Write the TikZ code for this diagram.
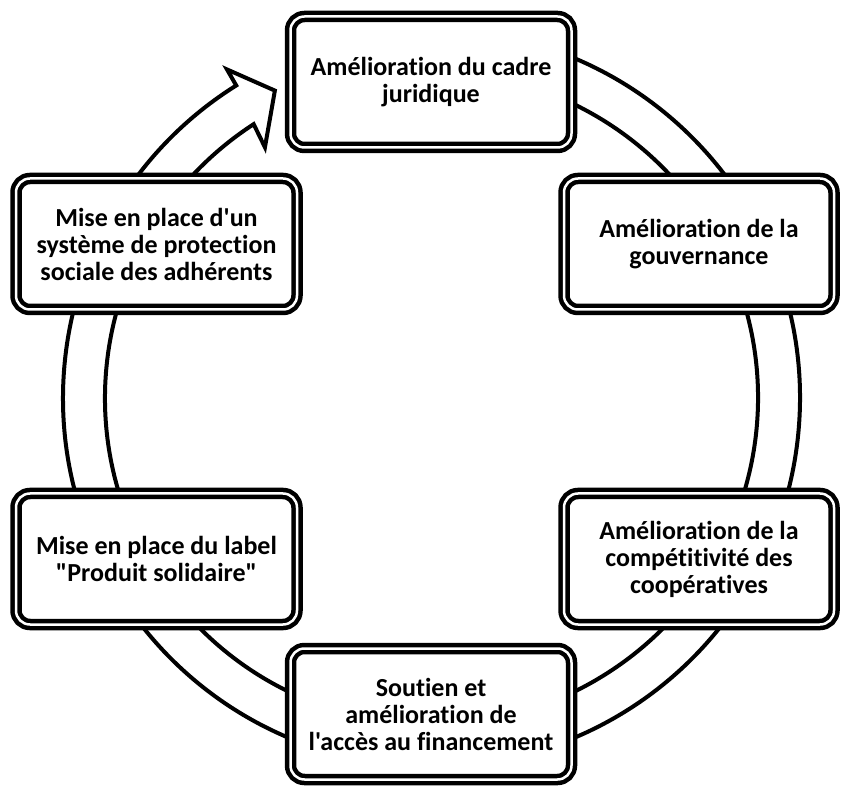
\documentclass[tikz,border=0pt]{standalone}
\usepackage{fontspec}
\setmainfont{Carlito}[Ligatures={TeXOff,NoCommon}]
\usepackage{tikz}
\usetikzlibrary{positioning}

\begin{document}
\begin{tikzpicture}[x=1pt, y=1pt,
  stage/.style={draw, fill=white, line width=4.5pt, double=white, double distance=2.5pt,
    rounded corners=14pt, minimum width=281pt, minimum height=131pt, align=center,
    font=\fontsize{26}{27}\selectfont\bfseries},
  ring/.style={draw, fill=white, line width=4pt}]
  \useasboundingbox (0,0) rectangle (842,787);

  % the cycle band, ending in an arrow head at the top
  \begin{scope}[shift={(431.5,389)}]
    \draw[ring] (85:368.5) arc[start angle=85, end angle=-238, radius=368.5]
      -- (-238.1:387) -- (-243:345) -- (-236.4:301) -- (-237:326.5)
      arc[start angle=-237, end angle=85, radius=326.5] -- cycle;
  \end{scope}

  \node[stage] (cadre) at (431,705) {Amélioration du cadre\\juridique};
  \node[stage, minimum width=270pt] (gouv) at (699,543) {Amélioration de la\\gouvernance};
  \node[stage, minimum width=270pt] (compet) at (699,228) {Amélioration de la\\compétitivité des\\coopératives};
  \node[stage] (financ) at (431,73) {Soutien et\\amélioration de\\l'accès au financement};
  \node[stage] (label) at (156.5,228) {Mise en place du label\\"Produit solidaire"};
  \node[stage] (protect) at (156.5,543) {Mise en place d'un\\système de protection\\sociale des adhérents};
\end{tikzpicture}
\end{document}
